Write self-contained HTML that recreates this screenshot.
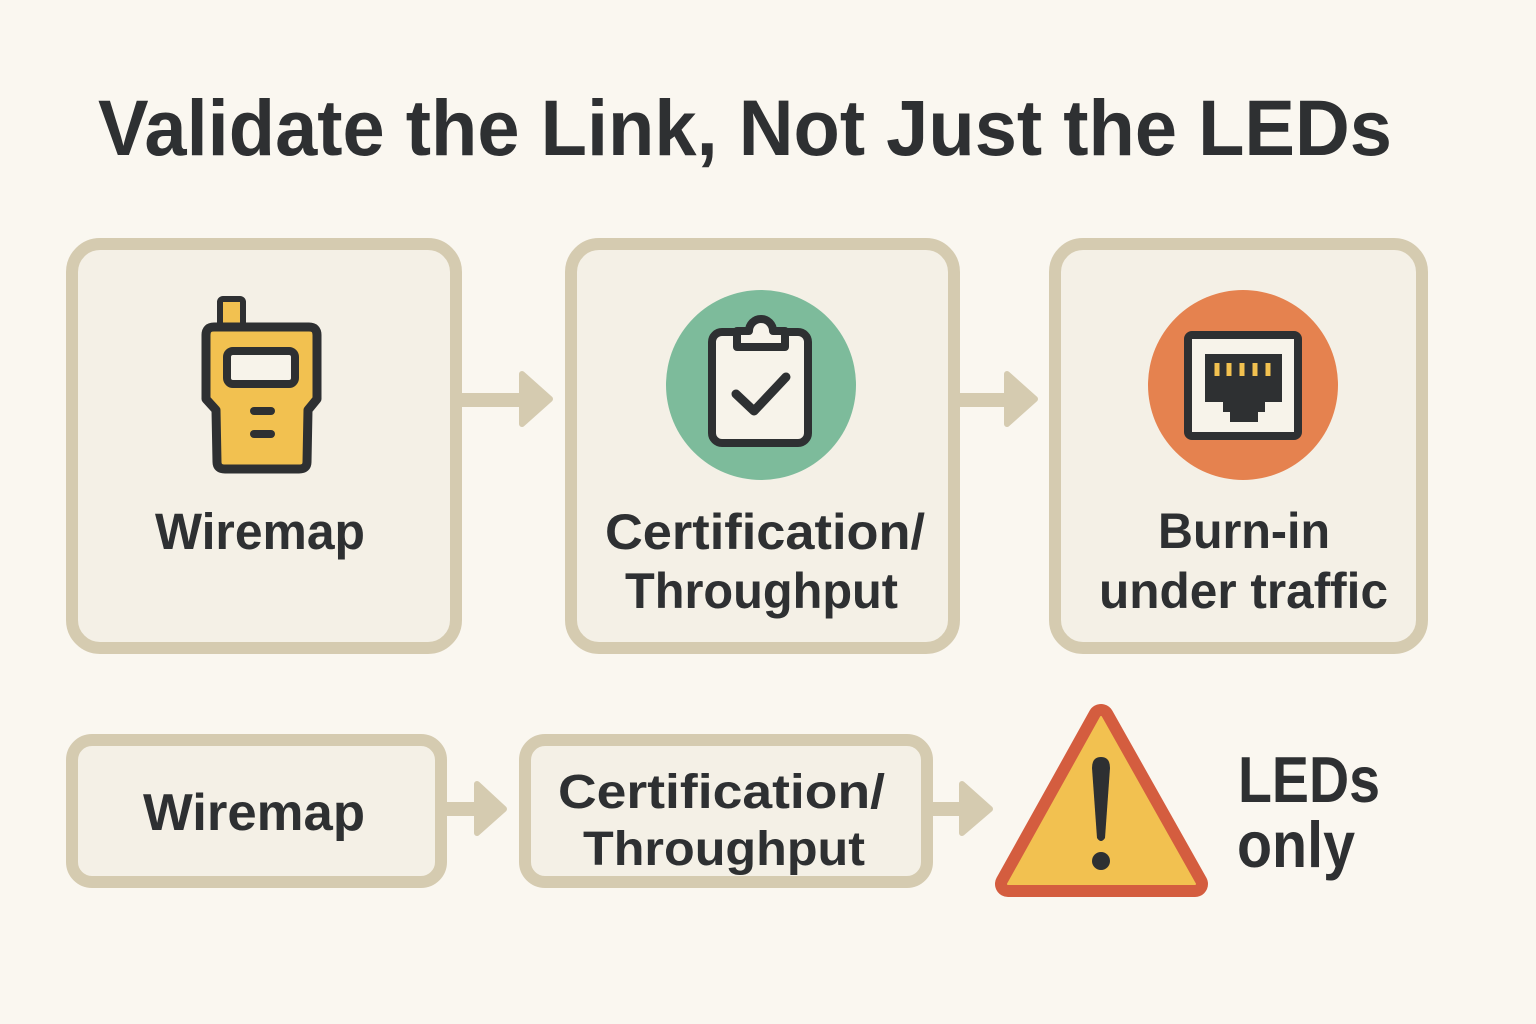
<!DOCTYPE html>
<html><head><meta charset="utf-8"><style>
html,body{margin:0;padding:0;background:#faf7f0;}
svg{display:block;}
text{font-family:"Liberation Sans","DejaVu Sans",sans-serif;font-weight:bold;fill:#2e3032;}
</style></head><body>
<svg width="1536" height="1024" viewBox="0 0 1536 1024" xmlns="http://www.w3.org/2000/svg">
<rect x="0" y="0" width="1536" height="1024" fill="#faf7f0"/>
<text x="98" y="155" font-size="79" textLength="1294" lengthAdjust="spacingAndGlyphs">Validate the Link, Not Just the LEDs</text>

<!-- top boxes -->
<g fill="#f4f0e6" stroke="#d5cbb0" stroke-width="12">
<rect x="72" y="244" width="384" height="404" rx="28"/>
<rect x="571" y="244" width="383" height="404" rx="28"/>
<rect x="1055" y="244" width="367" height="404" rx="28"/>
</g>

<!-- top arrows -->
<g fill="#d5cbb0" stroke="#d5cbb0" stroke-linejoin="round" stroke-width="6">
<rect x="462" y="393" width="60" height="14" stroke="none"/>
<polygon points="522,374 550,399 522,424"/>
<rect x="960" y="393" width="48" height="14" stroke="none"/>
<polygon points="1007,374 1035,399 1007,424"/>
</g>

<!-- walkie talkie -->
<g stroke="#2e3032" stroke-linejoin="round" stroke-linecap="round">
<rect x="220" y="299" width="23" height="30" rx="3" fill="#f2c150" stroke-width="6"/>
<path d="M 214 327 H 309 Q 317 327 317 335 V 399 L 308 410 L 307 462 Q 307 469 299 469 H 225 Q 217 469 217 462 L 216 410 L 206 399 V 335 Q 206 327 214 327 Z" fill="#f2c150" stroke-width="9"/>
<rect x="227" y="351" width="68" height="33" rx="6" fill="#f7f3ea" stroke-width="8"/>
<line x1="254" y1="411" x2="271" y2="411" stroke-width="8"/>
<line x1="254" y1="434" x2="271" y2="434" stroke-width="8"/>
</g>

<!-- clipboard -->
<circle cx="761" cy="385" r="95" fill="#7dbb9b"/>
<g stroke="#2e3032" stroke-linejoin="round" stroke-linecap="round" stroke-width="8">
<rect x="712" y="332" width="96" height="111" rx="10" fill="#f7f3ea"/>
<path d="M 737 347 V 331 H 749 A 12 12 0 0 1 773 331 H 785 V 347 Z" fill="#f7f3ea"/>
<polyline points="736,394 754,411 786,377" fill="none" stroke-width="9"/>
</g>

<!-- ethernet -->
<circle cx="1243" cy="385" r="95" fill="#e5824f"/>
<rect x="1188" y="335" width="110" height="101" rx="4" fill="#f7f3ea" stroke="#2e3032" stroke-width="8"/>
<path d="M 1205 354 H 1282 V 402 H 1265 V 412 H 1258 V 422 H 1230 V 412 H 1223 V 402 H 1205 Z" fill="#2e3032"/>
<g fill="#f2c150">
<rect x="1214.5" y="363" width="5" height="13"/>
<rect x="1226.5" y="363" width="5" height="13"/>
<rect x="1239.5" y="363" width="5" height="13"/>
<rect x="1252.5" y="363" width="5" height="13"/>
<rect x="1265.5" y="363" width="5" height="13"/>
</g>

<!-- top labels -->
<text x="155" y="549" font-size="51" textLength="210" lengthAdjust="spacingAndGlyphs">Wiremap</text>
<text x="605" y="549" font-size="50" textLength="320" lengthAdjust="spacingAndGlyphs">Certification/</text>
<text x="625" y="608" font-size="50" textLength="273" lengthAdjust="spacingAndGlyphs">Throughput</text>
<text x="1158" y="548" font-size="50" textLength="172" lengthAdjust="spacingAndGlyphs">Burn-in</text>
<text x="1099" y="608" font-size="50" textLength="289" lengthAdjust="spacingAndGlyphs">under traffic</text>

<!-- bottom boxes -->
<g fill="#f4f0e6" stroke="#d5cbb0" stroke-width="12">
<rect x="72" y="740" width="369" height="142" rx="20"/>
<rect x="525" y="740" width="402" height="142" rx="20"/>
</g>
<g fill="#d5cbb0" stroke="#d5cbb0" stroke-linejoin="round" stroke-width="6">
<rect x="447" y="802" width="30" height="14" stroke="none"/>
<polygon points="477,784 504,809 477,833"/>
<rect x="932" y="802" width="30" height="14" stroke="none"/>
<polygon points="962,784 990,809 962,833"/>
</g>
<text x="143" y="830" font-size="52" textLength="222" lengthAdjust="spacingAndGlyphs">Wiremap</text>
<text x="558" y="808" font-size="48" textLength="327" lengthAdjust="spacingAndGlyphs">Certification/</text>
<text x="583" y="865" font-size="48" textLength="282" lengthAdjust="spacingAndGlyphs">Throughput</text>

<!-- warning -->
<polygon points="1101,717 1008,884 1195,884" fill="#d45d3f" stroke="#d45d3f" stroke-width="26" stroke-linejoin="round"/>
<polygon points="1101,717 1008,884 1195,884" fill="#f2c150" stroke="#f2c150" stroke-width="2" stroke-linejoin="round"/>
<path d="M 1092 768 Q 1092 757 1101 757 Q 1110 757 1110 768 L 1105 838 Q 1101 844 1097 838 Z" fill="#2e3032"/>
<circle cx="1101" cy="861" r="9" fill="#2e3032"/>

<text x="1238" y="802" font-size="65" textLength="142" lengthAdjust="spacingAndGlyphs">LEDs</text>
<text x="1237" y="867" font-size="65" textLength="118" lengthAdjust="spacingAndGlyphs">only</text>
</svg>
</body></html>
